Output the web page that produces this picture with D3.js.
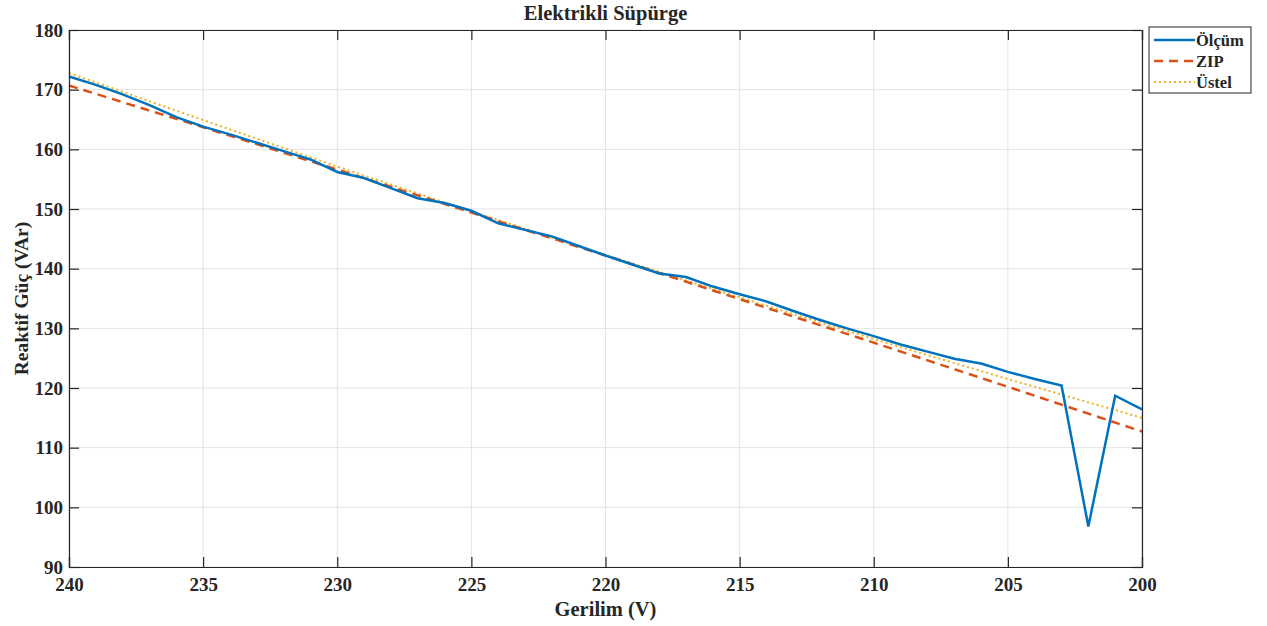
<!DOCTYPE html>
<html><head><meta charset="utf-8">
<script src="https://cdn.jsdelivr.net/npm/d3@7"></script>
<style>body{margin:0;background:#fff}svg{display:block}text{font-family:"Liberation Serif","Times New Roman",serif;font-weight:bold;fill:#262626}</style>
</head><body><svg id="c" width="1267" height="626"></svg>
<script>
const voltage = [240,239,238,237,236,235,234,233,232,231,230,229,228,227,226,225,224,223,222,221,220,219,218,217,216,215,214,213,212,211,210,209,208,207,206,205,204,203,202,201,200];
const olcum = [172.2,170.8,169.2,167.4,165.4,163.8,162.5,161.1,159.7,158.3,156.2,155.2,153.5,151.8,151.0,149.7,147.6,146.5,145.4,143.8,142.2,140.7,139.2,138.6,137.0,135.7,134.5,132.9,131.4,130.0,128.7,127.3,126.1,124.9,124.1,122.7,121.5,120.4,96.8,118.7,116.4];
const fitVoltage = [240,235,230,225,220,215,210,205,200];
const zip = [170.7,163.7,156.6,149.4,142.2,134.9,127.6,120.2,112.7];
const ustel = [172.8,164.9,157.1,149.6,142.3,135.2,128.2,121.5,115.0];
const xTicks = [240,235,230,225,220,215,210,205,200];
const yTicks = [90,100,110,120,130,140,150,160,170,180];
const seriesNames = ["Ölçüm","ZIP","Üstel"];
const colors = ["#0072BD","#D95319","#EDB120"];

const svg = d3.select("#c");
const L=69,R=1142,T=30,B=567;
const x = d3.scaleLinear().domain([240,200]).range([L,R]);
const y = d3.scaleLinear().domain([90,180]).range([B,T]);

// grid
svg.append("g").selectAll("line").data(xTicks).join("line")
  .attr("x1",d=>x(d)).attr("x2",d=>x(d)).attr("y1",T).attr("y2",B)
  .attr("stroke","#e3e3e3").attr("stroke-width",1);
svg.append("g").selectAll("line").data(yTicks).join("line")
  .attr("x1",L).attr("x2",R).attr("y1",d=>y(d)).attr("y2",d=>y(d))
  .attr("stroke","#e3e3e3").attr("stroke-width",1);

// series
const line = d3.line().x(d=>x(d[0])).y(d=>y(d[1]));
svg.append("path").datum(fitVoltage.map((v,i)=>[v,ustel[i]]))
  .attr("d",line).attr("fill","none").attr("stroke",colors[2]).attr("stroke-width",2).attr("stroke-dasharray","2,3");
svg.append("path").datum(fitVoltage.map((v,i)=>[v,zip[i]]))
  .attr("d",line).attr("fill","none").attr("stroke",colors[1]).attr("stroke-width",2.5).attr("stroke-dasharray","9,6");
svg.append("path").datum(voltage.map((v,i)=>[v,olcum[i]]))
  .attr("d",line).attr("fill","none").attr("stroke",colors[0]).attr("stroke-width",2.5).attr("stroke-linejoin","miter");

// axes
const ax = svg.append("g").attr("transform",`translate(0,${B})`)
  .call(d3.axisBottom(x).tickValues(xTicks).tickSize(-10).tickPadding(8).tickFormat(d3.format("d")));
const ay = svg.append("g").attr("transform",`translate(${L},0)`)
  .call(d3.axisLeft(y).tickValues(yTicks).tickSize(-10).tickPadding(6).tickFormat(d3.format("d")));
const axT = svg.append("g").attr("transform",`translate(0,${T})`)
  .call(d3.axisTop(x).tickValues(xTicks).tickSize(-10).tickFormat(""));
const ayR = svg.append("g").attr("transform",`translate(${R},0)`)
  .call(d3.axisRight(y).tickValues(yTicks).tickSize(-10).tickFormat(""));
[ax,ay,axT,ayR].forEach(g=>{
  g.attr("font-family",null).attr("font-size",null);
  g.select(".domain").attr("stroke","#262626").attr("stroke-width",1.2);
  g.selectAll(".tick line").attr("stroke","#262626").attr("stroke-width",1.2);
  g.selectAll("text").style("font-size","19px").style("font-family","'Liberation Serif'").style("font-weight","bold").attr("fill","#262626");
});
ax.selectAll("text").attr("dy","0.85em");

// titles
svg.append("text").attr("x",(L+R)/2).attr("y",20).attr("text-anchor","middle").style("font-size","20.5px").text("Elektrikli Süpürge");
svg.append("text").attr("x",(L+R)/2).attr("y",616).attr("text-anchor","middle").style("font-size","20.5px").text("Gerilim (V)");
svg.append("text").attr("transform",`translate(28,${(T+B)/2}) rotate(-90)`).attr("text-anchor","middle").style("font-size","19.5px").text("Reaktif Güç (VAr)");

// legend
const lg = svg.append("g");
lg.append("rect").attr("x",1149).attr("y",27).attr("width",102).attr("height",66).attr("fill","#fff").attr("stroke","#262626").attr("stroke-width",1);
const dashes = [null,"9,6","2,3"];
const widths = [2.5,2.5,2];
seriesNames.forEach((n,i)=>{
  const yy = 40 + i*21;
  lg.append("line").attr("x1",1154).attr("x2",1195).attr("y1",yy).attr("y2",yy)
    .attr("stroke",colors[i]).attr("stroke-width",widths[i]).attr("stroke-dasharray",dashes[i]);
  lg.append("text").attr("x",1196).attr("y",yy+5.5).style("font-size","16.5px").text(n);
});
</script></body></html>
